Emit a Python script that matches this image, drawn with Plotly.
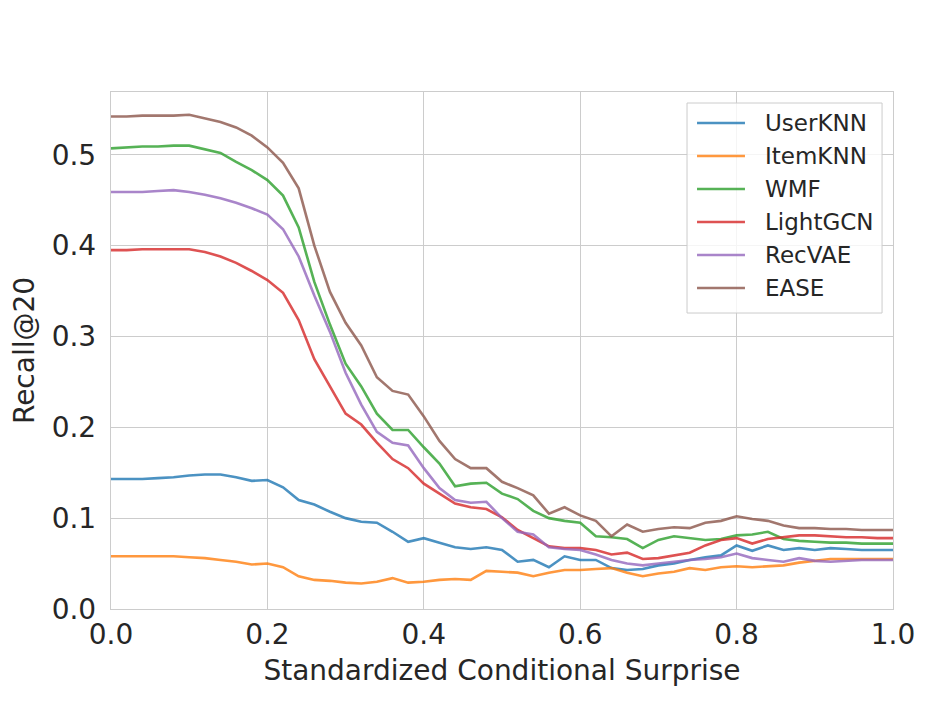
import plotly.graph_objects as go

x_vals = [round(i * 0.02, 2) for i in range(51)]

user_knn = [0.143, 0.143, 0.143, 0.144, 0.145, 0.147, 0.148, 0.148, 0.145, 0.141,
            0.142, 0.134, 0.120, 0.115, 0.107, 0.100, 0.096, 0.095, 0.085, 0.074,
            0.078, 0.073, 0.068, 0.066, 0.068, 0.065, 0.052, 0.054, 0.046, 0.058,
            0.054, 0.054, 0.045, 0.043, 0.044, 0.048, 0.050, 0.054, 0.057, 0.059,
            0.070, 0.064, 0.070, 0.065, 0.067, 0.065, 0.067, 0.066, 0.065, 0.065,
            0.065]
item_knn = [0.058, 0.058, 0.058, 0.058, 0.058, 0.057, 0.056, 0.054, 0.052, 0.049,
            0.050, 0.046, 0.036, 0.032, 0.031, 0.029, 0.028, 0.030, 0.034, 0.029,
            0.030, 0.032, 0.033, 0.032, 0.042, 0.041, 0.040, 0.036, 0.040, 0.043,
            0.043, 0.044, 0.045, 0.040, 0.036, 0.039, 0.041, 0.045, 0.043, 0.046,
            0.047, 0.046, 0.047, 0.048, 0.051, 0.053, 0.055, 0.055, 0.055, 0.055,
            0.055]
wmf = [0.507, 0.508, 0.509, 0.509, 0.510, 0.510, 0.506, 0.502, 0.492, 0.483,
       0.472, 0.455, 0.420, 0.360, 0.313, 0.270, 0.245, 0.215, 0.197, 0.197,
       0.178, 0.160, 0.135, 0.138, 0.139, 0.127, 0.121, 0.108, 0.100, 0.097,
       0.095, 0.080, 0.079, 0.077, 0.067, 0.076, 0.080, 0.078, 0.076, 0.077,
       0.081, 0.082, 0.085, 0.077, 0.075, 0.074, 0.073, 0.073, 0.072, 0.072,
       0.072]
light_gcn = [0.395, 0.395, 0.396, 0.396, 0.396, 0.396, 0.393, 0.388, 0.381, 0.372,
             0.362, 0.348, 0.318, 0.275, 0.245, 0.215, 0.203, 0.183, 0.165, 0.155,
             0.138, 0.127, 0.116, 0.112, 0.110, 0.101, 0.087, 0.078, 0.069, 0.067,
             0.067, 0.065, 0.060, 0.062, 0.055, 0.056, 0.059, 0.062, 0.070, 0.076,
             0.078, 0.072, 0.077, 0.079, 0.081, 0.081, 0.080, 0.079, 0.079, 0.078,
             0.078]
rec_vae = [0.459, 0.459, 0.459, 0.460, 0.461, 0.459, 0.456, 0.452, 0.447, 0.441,
           0.434, 0.418, 0.388, 0.345, 0.305, 0.260, 0.225, 0.195, 0.183, 0.180,
           0.155, 0.133, 0.120, 0.117, 0.118, 0.100, 0.085, 0.082, 0.068, 0.066,
           0.065, 0.060, 0.054, 0.050, 0.048, 0.050, 0.052, 0.054, 0.055, 0.057,
           0.061, 0.056, 0.054, 0.052, 0.056, 0.053, 0.052, 0.053, 0.054, 0.054,
           0.054]
ease = [0.542, 0.542, 0.543, 0.543, 0.543, 0.544, 0.540, 0.536, 0.530, 0.521,
        0.508, 0.491, 0.463, 0.400, 0.349, 0.315, 0.290, 0.255, 0.240, 0.236,
        0.212, 0.185, 0.165, 0.155, 0.155, 0.140, 0.133, 0.125, 0.105, 0.112,
        0.103, 0.097, 0.080, 0.093, 0.085, 0.088, 0.090, 0.089, 0.095, 0.097,
        0.102, 0.099, 0.097, 0.092, 0.089, 0.089, 0.088, 0.088, 0.087, 0.087,
        0.087]

series_names = ["UserKNN", "ItemKNN", "WMF", "LightGCN", "RecVAE", "EASE"]
series_values = [user_knn, item_knn, wmf, light_gcn, rec_vae, ease]
colors = ["#1f77b4", "#ff7f0e", "#2ca02c", "#d62728", "#9467bd", "#8c564b"]

x_ticks = [0.0, 0.2, 0.4, 0.6, 0.8, 1.0]
x_tick_labels = ["0.0", "0.2", "0.4", "0.6", "0.8", "1.0"]
y_ticks = [0.0, 0.1, 0.2, 0.3, 0.4, 0.5]
y_tick_labels = ["0.0", "0.1", "0.2", "0.3", "0.4", "0.5"]

fig = go.Figure()
for name, vals, col in zip(series_names, series_values, colors):
    fig.add_trace(go.Scatter(
        x=x_vals, y=vals, mode="lines", name=name, showlegend=False,
        line=dict(color=col, width=2.6), opacity=0.8,
    ))

# Legend drawn in paper coordinates (matplotlib-style box)
font_family = "DejaVu Sans"
fig.add_shape(type="rect", xref="paper", yref="paper",
              x0=0.7366, x1=0.986, y0=0.5725, y1=0.9787,
              line=dict(color="#cccccc", width=1), fillcolor="rgba(255,255,255,0.8)",
              layer="above")
leg_y0, leg_step = 0.940, 0.0638
for i, (name, col) in enumerate(zip(series_names, colors)):
    yy = leg_y0 - i * leg_step
    fig.add_shape(type="line", xref="paper", yref="paper",
                  x0=0.7494, x1=0.8107, y0=yy, y1=yy,
                  line=dict(color=col, width=2.6), opacity=0.8, layer="above")
    fig.add_annotation(xref="paper", yref="paper", x=0.8338, y=yy,
                       xanchor="left", yanchor="middle", text=name, showarrow=False,
                       font=dict(family=font_family, size=23, color="#262626"))

fig.update_layout(
    width=919, height=693,
    margin=dict(l=103, r=34, t=84, b=92, autoexpand=False),
    paper_bgcolor="white", plot_bgcolor="white",
    font=dict(family=font_family, color="#262626", size=28),
    showlegend=False,
    xaxis=dict(
        range=[0, 1], tickvals=x_ticks, ticktext=x_tick_labels,
        showgrid=True, gridcolor="#cccccc", gridwidth=1.4,
        showline=True, linecolor="#cccccc", linewidth=1.4, mirror=True,
        ticks="", zeroline=False,
        title=dict(text="Standardized Conditional Surprise", font=dict(size=28), standoff=10),
        tickfont=dict(size=28),
    ),
    yaxis=dict(
        range=[0, 0.569], tickvals=y_ticks, ticktext=y_tick_labels,
        showgrid=True, gridcolor="#cccccc", gridwidth=1.4,
        showline=True, linecolor="#cccccc", linewidth=1.4, mirror=True,
        ticks="", zeroline=False, ticklabelstandoff=8,
        title=dict(text="Recall@20", font=dict(size=28), standoff=10),
        tickfont=dict(size=28),
    ),
)

fig.write_html("out.html")
